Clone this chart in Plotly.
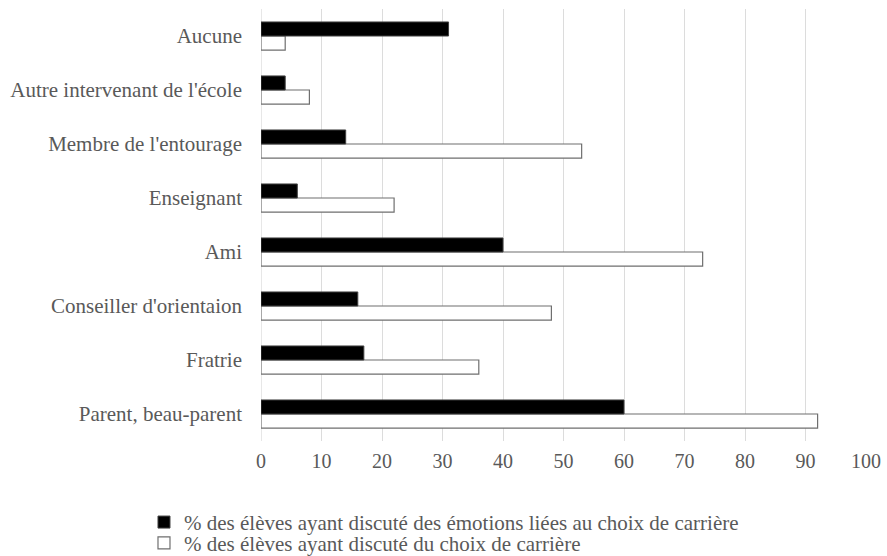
import plotly.graph_objects as go

categories = ["Parent, beau-parent", "Fratrie", "Conseiller d'orientaion", "Ami",
              "Enseignant", "Membre de l'entourage", "Autre intervenant de l'école", "Aucune"]
emotions = [60, 17, 16, 40, 6, 14, 4, 31]
choix = [92, 36, 48, 73, 22, 53, 8, 4]
name_emotions = "% des élèves ayant discuté des émotions liées au choix de carrière"
name_choix = "% des élèves ayant discuté du choix de carrière"
x_ticks = [0, 10, 20, 30, 40, 50, 60, 70, 80, 90, 100]

FONT = "Liberation Serif"
GREY = "#595959"

fig = go.Figure()
fig.add_trace(go.Bar(
    y=categories, x=choix, orientation="h", name=name_choix,
    marker=dict(color="white", line=dict(color="#6f6f6f", width=1.2)),
    legend="legend2",
))
fig.add_trace(go.Bar(
    y=categories, x=emotions, orientation="h", name=name_emotions,
    marker=dict(color="black", line=dict(color="#404040", width=1)),
    legend="legend",
))

fig.update_layout(
    width=887, height=556,
    margin=dict(l=261, r=21, t=9, b=115, autoexpand=False),
    paper_bgcolor="white", plot_bgcolor="white",
    barmode="group", bargap=0.48, bargroupgap=0,
    font=dict(family=FONT, size=21, color=GREY),
    xaxis=dict(range=[0, 100], tickvals=x_ticks, showgrid=True, gridcolor="#dcdcdc",
               gridwidth=1, zeroline=False, showline=False, ticks="", automargin=False,
               ticklabelstandoff=6, tickfont=dict(size=20, color=GREY)),
    yaxis=dict(type="category", categoryorder="array", categoryarray=categories,
               range=[-0.5, 7.5], showgrid=False, zeroline=False, showline=False,
               ticks="", automargin=False, ticklabelstandoff=18,
               tickfont=dict(size=21, color=GREY)),
    showlegend=True,
    legend=dict(x=-0.1934, y=-0.141, xanchor="left", yanchor="top", orientation="v",
                font=dict(size=21, color=GREY), itemwidth=30, bgcolor="rgba(0,0,0,0)"),
    legend2=dict(x=-0.1934, y=-0.1894, xanchor="left", yanchor="top", orientation="v",
                 font=dict(size=21, color=GREY), itemwidth=30, bgcolor="rgba(0,0,0,0)"),
)
fig.add_shape(type="line", xref="x", yref="paper", x0=0, x1=0, y0=0, y1=1,
              line=dict(color="#d0d0d0", width=1), layer="below")

fig.write_html(
    "out.html",
    config={"displayModeBar": False},
    post_script=("document.body.style.margin='0';"
                 "document.body.style.overflow='hidden';"
                 "document.documentElement.style.overflow='hidden';"),
)
